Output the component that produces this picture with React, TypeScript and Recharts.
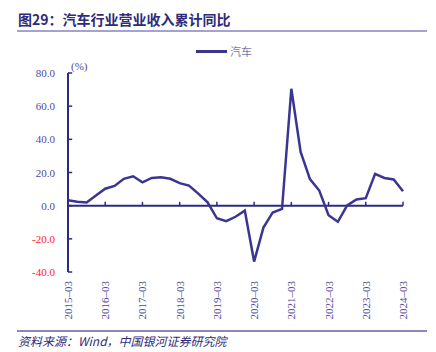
import React from 'react'
import { LineChart, Line, XAxis, YAxis, ReferenceLine, Legend } from 'recharts'

const quarters = [
  '2015-03', '2015-06', '2015-09', '2015-12',
  '2016-03', '2016-06', '2016-09', '2016-12',
  '2017-03', '2017-06', '2017-09', '2017-12',
  '2018-03', '2018-06', '2018-09', '2018-12',
  '2019-03', '2019-06', '2019-09', '2019-12',
  '2020-03', '2020-06', '2020-09', '2020-12',
  '2021-03', '2021-06', '2021-09', '2021-12',
  '2022-03', '2022-06', '2022-09', '2022-12',
  '2023-03', '2023-06', '2023-09', '2023-12',
  '2024-03',
]

// 汽车行业营业收入累计同比 (%)
const autoRevenueYoY = [
  3.2, 2.4, 1.9, 6.1,
  10.2, 11.9, 16.2, 17.7,
  14.1, 16.7, 17.1, 16.2,
  13.6, 12.1, 7.3, 2.0,
  -7.6, -9.3, -6.7, -3.0,
  -33.7, -13.2, -4.1, -2.0,
  70.5, 32.4, 16.0, 9.1,
  -5.8, -9.7, 0.2, 3.7,
  4.5, 19.2, 16.7, 15.8,
  8.7,
]

const yTicks = [-40, -20, 0, 20, 40, 60, 80]
const xTicks = [0, 4, 8, 12, 16, 20, 24, 28, 32, 36]

const NAVY = '#2d2a80'
const LINE = '#3b3592'
const LABEL = '#4c4a9c'
const SERIF = "'Liberation Serif', 'DejaVu Serif', serif"

const data = quarters.map((q, i) => ({ idx: i, label: q, value: autoRevenueYoY[i] }))

const YTick = (props: any) => {
  const { x, y, payload } = props
  const v = payload.value as number
  return (
    <text
      x={x - 13}
      y={y}
      textAnchor="end"
      dominantBaseline="central"
      style={{ fontSize: 11, fontFamily: SERIF }}
      fill={v < 0 ? '#ff2020' : LABEL}
    >
      {v.toFixed(1)}
    </text>
  )
}

const XTick = (props: any) => {
  const { x, y, payload } = props
  const label = quarters[payload.value].replace('-', '–')
  const ty = y + 9
  return (
    <text
      x={x}
      y={ty}
      transform={`rotate(-90, ${x}, ${ty})`}
      textAnchor="end"
      dominantBaseline="central"
      style={{ fontSize: 11, fontFamily: SERIF }}
      fill={LABEL}
    >
      {label}
    </text>
  )
}

const LegendBox = () => (
  <div style={{ display: 'flex', alignItems: 'center' }}>
    <span style={{ display: 'inline-block', width: 31, height: 3, background: LINE, marginRight: 3 }} />
    <span style={{ fontSize: 11, color: '#7a78b0', fontFamily: 'Noto Sans CJK SC' }}>汽车</span>
  </div>
)

export default function App() {
  return (
    <div style={{ position: 'absolute', left: 0, top: 0, width: 436, height: 352, background: '#fff', fontFamily: 'Noto Sans CJK SC' }}>
      <div style={{ position: 'absolute', left: 18, top: 9, fontSize: 14, fontWeight: 700, color: '#2e2b78', lineHeight: '20px' }}>
        图29：汽车行业营业收入累计同比
      </div>
      <div style={{ position: 'absolute', left: 17, top: 30, width: 410, height: 2, background: '#a5a2d0' }} />
      <div style={{ position: 'absolute', left: 71, top: 60, fontSize: 11, color: LABEL, fontFamily: SERIF }}>(%)</div>
      <LineChart
        width={436}
        height={352}
        data={data}
        margin={{ top: 57, right: 33, left: 0, bottom: 0 }}
      >
        <XAxis
          dataKey="idx"
          type="number"
          domain={[0, 36]}
          ticks={xTicks}
          interval={0}
          axisLine={false}
          tickLine={false}
          tickSize={0}
          tickMargin={0}
          height={80}
          tick={<XTick />}
        />
        <YAxis
          type="number"
          domain={[-40, 80]}
          ticks={yTicks}
          interval={0}
          width={68}
          axisLine={{ stroke: NAVY, strokeWidth: 2 }}
          tickLine={false}
          tickSize={0}
          tickMargin={0}
          tick={<YTick />}
        />
        <Legend
          verticalAlign="top"
          content={<LegendBox />}
          wrapperStyle={{ position: 'absolute', left: 196, top: 43, width: 80 }}
        />
        <ReferenceLine y={0} stroke={NAVY} strokeWidth={2} />
        {xTicks.map(t => (
          <ReferenceLine
            key={`xt-${t}`}
            segment={[{ x: t, y: 0 }, { x: t, y: 2.3 }]}
            stroke={NAVY}
            strokeWidth={1.5}
          />
        ))}
        {yTicks.map(t => (
          <ReferenceLine
            key={`yt-${t}`}
            segment={[{ x: 0, y: t }, { x: 0.45, y: t }]}
            stroke={NAVY}
            strokeWidth={1.5}
          />
        ))}
        <Line
          type="linear"
          dataKey="value"
          name="汽车"
          stroke={LINE}
          strokeWidth={2.5}
          dot={false}
          activeDot={false}
          isAnimationActive={false}
        />
      </LineChart>
      <div style={{ position: 'absolute', left: 17, top: 330, width: 410, height: 1.5, background: '#8a86c0' }} />
      <div style={{ position: 'absolute', left: 18, top: 333, fontSize: 12, fontStyle: 'italic', color: '#2e2b78', lineHeight: '16px' }}>
        资料来源：Wind，中国银河证券研究院
      </div>
    </div>
  )
}
